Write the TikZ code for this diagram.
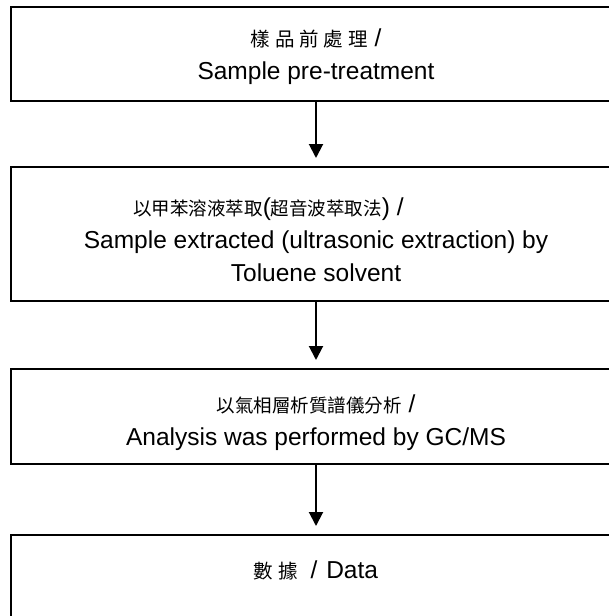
\documentclass[tikz,border=0pt]{standalone}
\usepackage{fontspec}
\setmainfont{Liberation Sans}
\newfontfamily\cjkfont{Noto Sans CJK TC}
\newfontfamily\cjkwide[LetterSpace=25]{Noto Sans CJK TC}
\newcommand{\zhT}[1]{{\cjkfont\fontsize{18.5pt}{33pt}\selectfont #1}}
\newcommand{\zhW}[1]{{\cjkwide\fontsize{19.5pt}{33pt}\selectfont #1}}
\usetikzlibrary{arrows.meta}
\begin{document}
\begin{tikzpicture}[x=1pt,y=-1pt,
  box/.style={draw=black, line width=2pt, minimum width=610pt, inner sep=0pt},
  txt/.style={align=center, inner sep=0pt, font=\fontsize{24.5pt}{33pt}\selectfont},
  flow/.style={line width=2pt, -{Triangle[width=14pt,length=14pt]}, shorten >=8pt}]
\useasboundingbox (0,0) rectangle (609,616);
\node[box, minimum height=94pt] (b1) at (316,54) {};
\node[box, minimum height=134pt] (b2) at (316,234) {};
\node[box, minimum height=95pt] (b3) at (316,416.5) {};
\node[box, minimum height=95pt] (b4) at (316,582.5) {};
\node[txt] (t1) at (316,57) {\zhW{樣品前處理} /\\Sample pre-treatment};
\node[txt] (t2) at (316,240) {\zhT{以甲苯溶液萃取}(\zhT{超音波萃取法}) /\hspace*{95pt}\mbox{}\\Sample extracted (ultrasonic extraction) by\\Toluene solvent};
\node[txt] (t3) at (316,422.5) {\zhT{以氣相層析質譜儀分析} /\\Analysis was performed by GC/MS};
\node[txt] (t4) at (316,570) {\zhW{數據}\hspace{6pt} /\hspace{2pt} Data};
\draw[flow] (b1.south) -- (b2.north);
\draw[flow] (b2.south) -- (b3.north);
\draw[flow] (b3.south) -- (b4.north);
\end{tikzpicture}
\end{document}
